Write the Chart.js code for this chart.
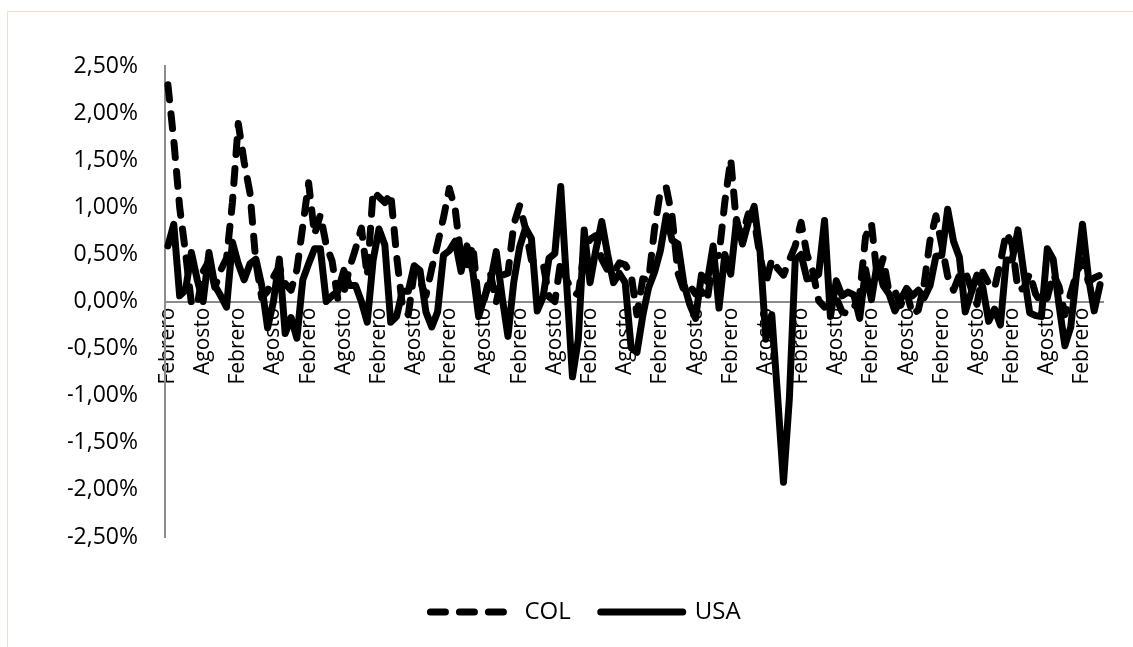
<!DOCTYPE html>
<html><head><meta charset="utf-8">
<script src="https://cdn.jsdelivr.net/npm/chart.js@4.4.1/dist/chart.umd.min.js"></script>
<style>
html,body{margin:0;padding:0;background:#fff;}
#wrap{position:relative;width:1133px;height:647px;overflow:hidden;}
#frame{position:absolute;left:7px;top:11px;right:-5px;bottom:-5px;border-top:1px solid #f3dcc9;border-left:1px solid #f3dcc9;pointer-events:none;}
canvas{display:block}
</style></head><body>
<div id="wrap"><canvas id="c" width="1133" height="647"></canvas><div id="frame"></div></div>
<script>
// Month names (Spanish); series starts in Febrero
const monthNames = ['Enero','Febrero','Marzo','Abril','Mayo','Junio','Julio','Agosto','Septiembre','Octubre','Noviembre','Diciembre'];

// Monthly inflation, COL (%), Feb 2000 -> May 2013
const col2000 = [2.30, 1.71, 1.00, 0.52, -0.02, -0.04, 0.32, 0.43, 0.15, 0.33, 0.46];
const col2001 = [1.05, 1.89, 1.48, 1.15, 0.42, 0.04, 0.11, 0.26, 0.37, 0.19, 0.12, 0.34];
const col2002 = [0.80, 1.26, 0.71, 0.92, 0.60, 0.43, 0.02, 0.09, 0.36, 0.56, 0.78, 0.27];
const col2003 = [1.17, 1.11, 1.05, 1.15, 0.49, -0.05, -0.14, 0.31, 0.22, 0.06, 0.35, 0.61];
const col2004 = [0.89, 1.20, 0.98, 0.46, 0.38, 0.60, -0.03, 0.03, 0.30, -0.01, 0.28, 0.30];
const col2005 = [0.82, 1.02, 0.77, 0.44, 0.41, 0.40, 0.05, 0.00, 0.43, 0.23, 0.11, 0.07];
const col2006 = [0.54, 0.66, 0.70, 0.45, 0.33, 0.30, 0.41, 0.39, 0.29, -0.14, 0.24, 0.23];
const col2007 = [0.77, 1.17, 1.21, 0.90, 0.30, 0.12, 0.17, 0.08, 0.11, 0.01, 0.47, 0.49];
const col2008 = [1.06, 1.51, 0.81, 0.71, 0.93, 0.86, 0.48, 0.19, 0.45, 0.35, 0.28, 0.44];
const col2009 = [0.59, 0.84, 0.50, 0.32, 0.01, -0.06, -0.04, 0.04, -0.11, -0.13, -0.07, 0.08];
const col2010 = [0.69, 0.83, 0.25, 0.46, 0.10, 0.11, -0.04, 0.11, -0.14, -0.09, 0.19, 0.65];
const col2011 = [0.91, 0.60, 0.27, 0.12, 0.28, 0.32, 0.14, -0.03, 0.31, 0.19, 0.14, 0.42];
const col2012 = [0.73, 0.61, 0.12, 0.14, 0.30, 0.08, -0.02, 0.04, 0.29, 0.16, -0.14, 0.09];
const col2013 = [0.30, 0.44, 0.21, 0.25, 0.28];

// Monthly inflation, USA (%), Feb 2000 -> May 2013
const usa2000 = [0.59, 0.82, 0.06, 0.12, 0.52, 0.23, 0.00, 0.52, 0.17, 0.06, -0.06];
const usa2001 = [0.63, 0.40, 0.23, 0.40, 0.45, 0.17, -0.28, 0.00, 0.45, -0.34, -0.17, -0.39];
const usa2002 = [0.23, 0.40, 0.56, 0.56, 0.00, 0.06, 0.11, 0.33, 0.17, 0.17, 0.00, -0.22];
const usa2003 = [0.44, 0.77, 0.60, -0.22, -0.16, 0.11, 0.11, 0.38, 0.33, -0.11, -0.27, -0.11];
const usa2004 = [0.49, 0.54, 0.64, 0.32, 0.59, 0.32, -0.16, 0.05, 0.21, 0.53, 0.05, -0.37];
const usa2005 = [0.21, 0.58, 0.78, 0.67, -0.10, 0.05, 0.46, 0.51, 1.22, 0.20, -0.80, -0.40];
const usa2006 = [0.76, 0.20, 0.55, 0.85, 0.50, 0.20, 0.30, 0.20, -0.49, -0.54, -0.15, 0.15];
const usa2007 = [0.31, 0.54, 0.91, 0.65, 0.61, 0.19, -0.03, -0.18, 0.28, 0.21, 0.59, -0.07];
const usa2008 = [0.50, 0.29, 0.87, 0.61, 0.84, 1.01, 0.53, -0.40, -0.14, -1.01, -1.92, -1.03];
const usa2009 = [0.44, 0.50, 0.24, 0.25, 0.29, 0.86, -0.16, 0.22, 0.06, 0.10, 0.07, -0.18];
const usa2010 = [0.34, 0.02, 0.41, 0.17, 0.08, -0.10, 0.02, 0.14, 0.06, 0.12, 0.04, 0.17];
const usa2011 = [0.48, 0.49, 0.98, 0.64, 0.47, -0.11, 0.09, 0.28, 0.15, -0.21, -0.08, -0.25];
const usa2012 = [0.44, 0.44, 0.76, 0.30, -0.12, -0.15, -0.16, 0.56, 0.45, -0.04, -0.47, -0.27];
const usa2013 = [0.30, 0.82, 0.26, -0.10, 0.18];

const colValues = [].concat(col2000, col2001, col2002, col2003, col2004, col2005, col2006,
  col2007, col2008, col2009, col2010, col2011, col2012, col2013);
const usaValues = [].concat(usa2000, usa2001, usa2002, usa2003, usa2004, usa2005, usa2006,
  usa2007, usa2008, usa2009, usa2010, usa2011, usa2012, usa2013);

// Category labels: one per month, starting Febrero
const categories = colValues.map((_, i) => monthNames[(1 + i) % 12]);
const shownTickLabels = ['Febrero', 'Agosto'];
const labelEvery = 6;

// Y-axis ticks (percent)
const yMin = -2.5, yMax = 2.5, yStep = 0.5;

const FONT = '"Open Sans", Lato, sans-serif';
const padLeft = 68, padRight = 30, padTop = 66, padBottom = 13;
const axisGray = '#8c8c8c';
const LW = 7;

new Chart(document.getElementById('c'), {
  type: 'line',
  data: {
    labels: categories,
    datasets: [
      { label: 'COL', data: colValues, borderColor: '#000', backgroundColor: '#000',
        borderWidth: LW, borderDash: [15, 14], borderCapStyle: 'round', borderJoinStyle: 'round',
        pointRadius: 0, tension: 0, fill: false },
      { label: 'USA', data: usaValues, borderColor: '#000', backgroundColor: '#000',
        borderWidth: LW, borderCapStyle: 'round', borderJoinStyle: 'round',
        pointRadius: 0, tension: 0, fill: false }
    ]
  },
  options: {
    responsive: false,
    animation: false,
    layout: { padding: { left: padLeft, right: padRight, top: padTop, bottom: padBottom } },
    scales: {
      x: {
        type: 'category',
        offset: true,
        position: { y: 0 },
        grid: { display: false, drawTicks: false },
        border: { display: true, color: axisGray, width: 2 },
        ticks: {
          autoSkip: false, maxRotation: 90, minRotation: 90, padding: 6,
          color: '#000', font: { family: FONT, size: 21 },
          callback: function (v, i) {
            const lab = this.getLabelForValue(v);
            return (i % labelEvery === 0 && shownTickLabels.includes(lab)) ? lab : null;
          }
        }
      },
      xspace: {
        type: 'category', position: 'bottom', display: true,
        grid: { display: false, drawTicks: false }, border: { display: false },
        ticks: { display: false },
        afterFit: s => { s.height = 33; }
      },
      y: {
        min: yMin, max: yMax,
        grid: { display: false, drawTicks: false },
        border: { display: true, color: axisGray, width: 2 },
        ticks: {
          stepSize: yStep, padding: 27, color: '#000', font: { family: FONT, size: 23 },
          callback: v => v.toFixed(2).replace('.', ',') + '%'
        },
        afterFit: s => { s.width = 165 - padLeft; }
      }
    },
    plugins: {
      tooltip: { enabled: false },
      legend: {
        position: 'bottom',
        labels: {
          usePointStyle: true, pointStyleWidth: 82, padding: 30,
          color: '#000', font: { family: FONT, size: 24 },
          generateLabels: chart => chart.data.datasets.map((ds, i) => ({
            text: ds.label, fillStyle: '#000', strokeStyle: '#000', lineWidth: LW,
            lineDash: ds.borderDash || [], lineCap: 'round', pointStyle: 'line',
            hidden: false, datasetIndex: i, fontColor: '#000'
          }))
        }
      }
    }
  }
});
</script>
</body></html>
